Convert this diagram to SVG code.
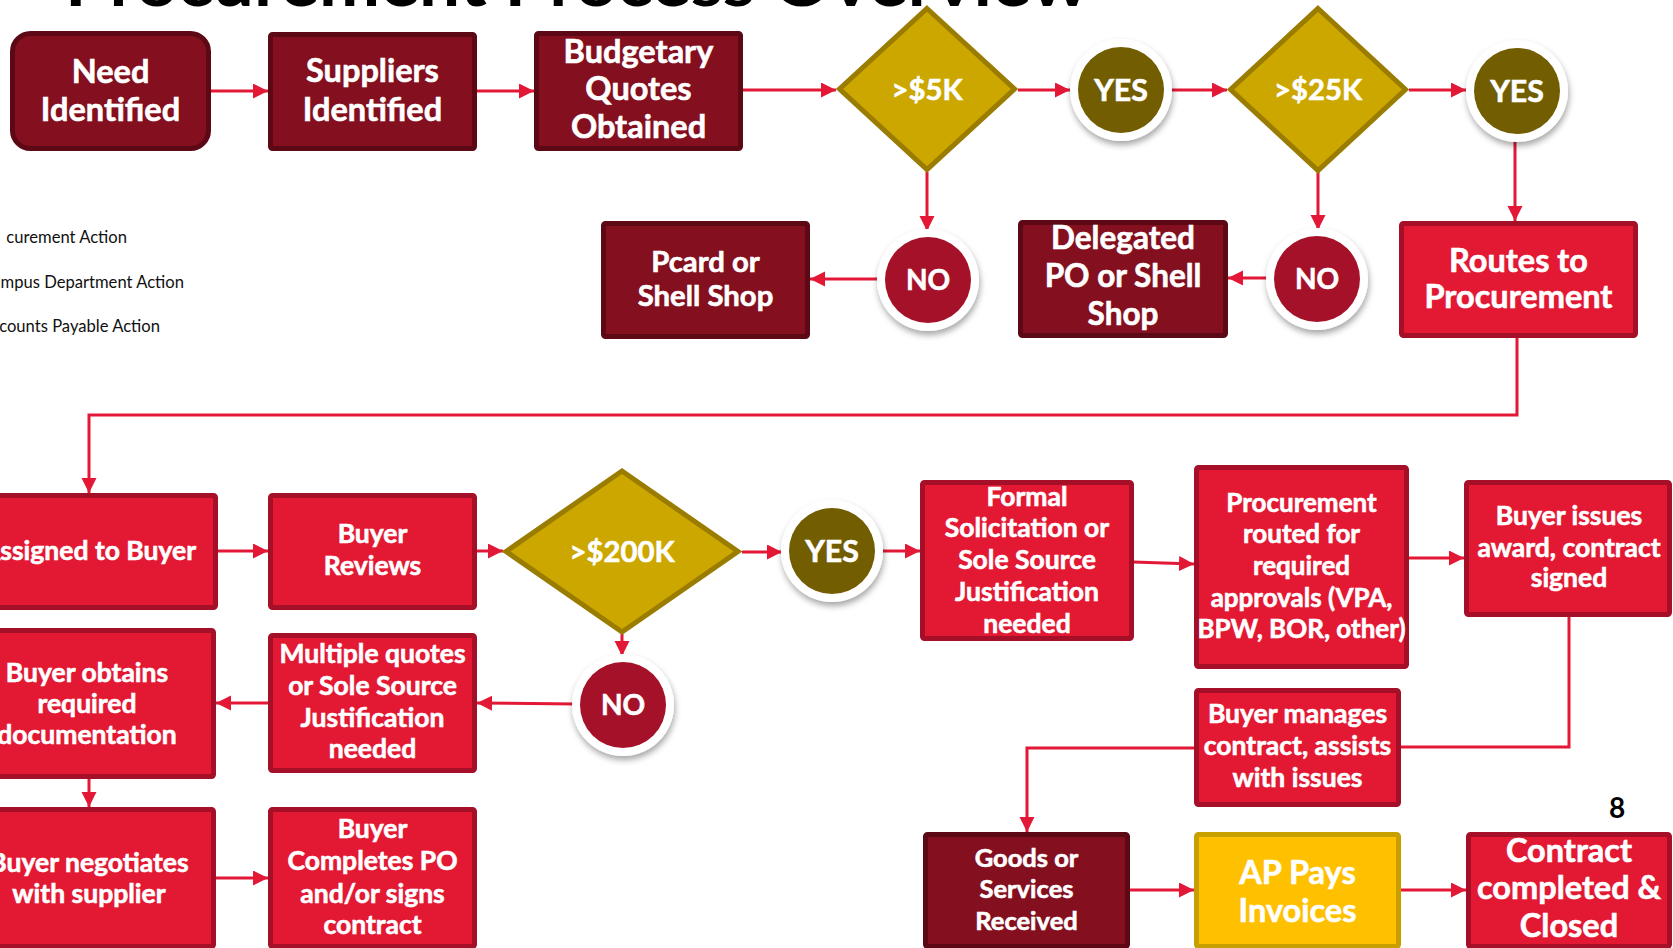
<svg xmlns="http://www.w3.org/2000/svg" width="1673" height="948" viewBox="0 0 1673 948">
<style>
.t{font-family:"Lato","Liberation Sans",sans-serif;font-weight:700;fill:#fff;stroke:#fff;stroke-width:0.6;text-anchor:middle}
.t32{font-size:32.5px}.t31{font-size:31.5px}.t29{font-size:29.3px}.t30{font-size:30.3px}.t28{font-size:28px}.t26{font-size:26.5px}.t25{font-size:25.5px}.t26b{font-size:26px}
.dk{fill:#84101F;stroke:#5C0915;stroke-width:5}
.rd{fill:#E31934;stroke:#A50F28;stroke-width:5}
.yl{fill:#FFC000;stroke:#C7A000;stroke-width:5}
.dm{fill:#CCA700;stroke:#9A7C00;stroke-width:5;stroke-linejoin:miter}
.ring{fill:#fff;filter:url(#sh)}
.yes{fill:#725D00}.no{fill:#A51128}
.c{fill:none;stroke:#E31837;stroke-width:3}
.ca{marker-end:url(#ah)}
.lg{font-family:"Lato","Liberation Sans",sans-serif;font-size:16.6px;fill:#111;text-anchor:end}
</style>
<defs>
<marker id="ah" markerUnits="userSpaceOnUse" markerWidth="16" markerHeight="16" refX="15" refY="7.5" orient="auto">
<path d="M0,0 L15,7.5 L0,15 z" fill="#E31837"/>
</marker>
<filter id="sh" x="-30%" y="-30%" width="160%" height="170%">
<feDropShadow dx="1" dy="4" stdDeviation="3" flood-color="#000" flood-opacity="0.35"/>
</filter>
</defs>
<rect width="1673" height="948" fill="#fff"/>
<text x="65" y="6" font-family="Lato,'Liberation Sans',sans-serif" font-weight="700" font-size="66" fill="#000" textLength="1024" lengthAdjust="spacingAndGlyphs">Procurement Process Overview</text>
<g id="legend">
<text class="lg" x="127" y="243">curement Action</text>
<text class="lg" x="184" y="288">mpus Department Action</text>
<text class="lg" x="160" y="332">counts Payable Action</text>
</g>
<g id="connectors">
<path class="c ca" d="M211,91 H268"/>
<path class="c ca" d="M477,91 H534"/>
<path class="c ca" d="M743,90 H836"/>
<path class="c ca" d="M1018,90 H1070"/>
<path class="c ca" d="M1168,90 H1227"/>
<path class="c ca" d="M1409,90 H1466"/>
<path class="c ca" d="M1515,136 V221"/>
<path class="c ca" d="M927,172 V231"/>
<path class="c ca" d="M880,279 H810"/>
<path class="c ca" d="M1318,172 V230"/>
<path class="c ca" d="M1270,278 H1228"/>
<path class="c ca" d="M1517,338 V415 H89 V493"/>
<path class="c ca" d="M218,551 H268"/>
<path class="c ca" d="M477,551 H503"/>
<path class="c ca" d="M742,552 H782"/>
<path class="c ca" d="M880,551 H920"/>
<path class="c ca" d="M622,634 V656"/>
<path class="c ca" d="M576,704 L477,703"/>
<path class="c ca" d="M268,703 H216"/>
<path class="c ca" d="M89,779 V807"/>
<path class="c ca" d="M216,878 H268"/>
<path class="c ca" d="M1133,562 L1194,564"/>
<path class="c ca" d="M1409,558 H1464"/>
<path class="c" d="M1569,617 V747 H1401"/>
<path class="c ca" d="M1194,748 H1027 V832"/>
<path class="c ca" d="M1130,890 H1194"/>
<path class="c ca" d="M1401,890 H1466"/>
</g>
<g id="need"><rect class="dk" x="12.5" y="33.5" width="196" height="115" rx="18"/>
<text class="t t32" x="110.5" y="83">Need</text><text class="t t32" x="110.5" y="121">Identified</text></g>
<g id="suppliers"><rect class="dk" x="270.5" y="34.5" width="204" height="114" rx="2"/>
<text class="t t32" x="372.5" y="82">Suppliers</text><text class="t t32" x="372.5" y="121">Identified</text></g>
<g id="budgetary"><rect class="dk" x="536.5" y="33.5" width="204" height="115" rx="2"/>
<text class="t t32" x="638.5" y="63">Budgetary</text><text class="t t32" x="638.5" y="100">Quotes</text><text class="t t32" x="638.5" y="138">Obtained</text></g>
<g id="d5k"><polygon class="dm" points="927,8.5 1014.5,89 927,169.5 839.5,89"/>
<text class="t t29" x="927" y="100">&gt;$5K</text></g>
<g id="yes1"><circle class="ring" cx="1121" cy="90" r="51"/><circle class="yes" cx="1121" cy="90" r="43"/>
<text class="t t30" x="1121" y="100.5">YES</text></g>
<g id="d25k"><polygon class="dm" points="1318,8.5 1405.5,89.5 1318,170.5 1230.5,89.5"/>
<text class="t t29" x="1318" y="100">&gt;$25K</text></g>
<g id="yes2"><circle class="ring" cx="1517" cy="91" r="51"/><circle class="yes" cx="1517" cy="91" r="43"/>
<text class="t t30" x="1517" y="101.5">YES</text></g>
<g id="pcard"><rect class="dk" x="603.5" y="223.5" width="204" height="113" rx="2"/>
<text class="t t29" x="705.5" y="272">Pcard or</text><text class="t t29" x="705.5" y="306">Shell Shop</text></g>
<g id="no1"><circle class="ring" cx="928" cy="280" r="51"/><circle class="no" cx="928" cy="280" r="43"/>
<text class="t t28" x="928" y="290">NO</text></g>
<g id="delegated"><rect class="dk" x="1020.5" y="222.5" width="205" height="113" rx="2"/>
<text class="t t31" x="1123" y="249">Delegated</text><text class="t t31" x="1123" y="287">PO or Shell</text><text class="t t31" x="1123" y="325">Shop</text></g>
<g id="no2"><circle class="ring" cx="1317" cy="279" r="51"/><circle class="no" cx="1317" cy="279" r="43"/>
<text class="t t28" x="1317" y="289">NO</text></g>
<g id="routes"><rect class="rd" x="1401.5" y="223.5" width="234" height="112" rx="2"/>
<text class="t t32" x="1518.5" y="272">Routes to</text><text class="t t32" x="1518.5" y="308">Procurement</text></g>
<g id="assigned"><rect class="rd" x="-40" y="495.5" width="255.5" height="112" rx="2"/>
<text class="t t26" x="89" y="560">Assigned to Buyer</text></g>
<g id="reviews"><rect class="rd" x="270.5" y="495.5" width="204" height="112" rx="2"/>
<text class="t t26" x="372.5" y="543">Buyer</text><text class="t t26" x="372.5" y="575">Reviews</text></g>
<g id="d200k"><polygon class="dm" points="622,471 738,551.5 622,632 506,551.5"/>
<text class="t t29" x="622" y="562">&gt;$200K</text></g>
<g id="yes3"><circle class="ring" cx="832" cy="551" r="51"/><circle class="yes" cx="832" cy="551" r="43"/>
<text class="t t30" x="832" y="561.5">YES</text></g>
<g id="formal"><rect class="rd" x="922.5" y="482.5" width="209" height="156" rx="2"/>
<text class="t t26" x="1027" y="506">Formal</text><text class="t t26" x="1027" y="537">Solicitation or</text><text class="t t26" x="1027" y="569">Sole Source</text><text class="t t26" x="1027" y="601">Justification</text><text class="t t26" x="1027" y="633">needed</text></g>
<g id="routed"><rect class="rd" x="1196.5" y="467.5" width="210" height="199" rx="2"/>
<text class="t t26b" x="1301.5" y="512">Procurement</text><text class="t t26b" x="1301.5" y="543">routed for</text><text class="t t26b" x="1301.5" y="575">required</text><text class="t t26b" x="1301.5" y="607">approvals (VPA,</text><text class="t t26b" x="1301.5" y="638">BPW, BOR, other)</text></g>
<g id="issues"><rect class="rd" x="1466.5" y="482.5" width="203" height="132" rx="2"/>
<text class="t t26" x="1569" y="525">Buyer issues</text><text class="t t26" x="1569" y="557">award, contract</text><text class="t t26" x="1569" y="587">signed</text></g>
<g id="obtains"><rect class="rd" x="-40" y="630.5" width="253.5" height="146" rx="2"/>
<text class="t t26" x="87" y="682">Buyer obtains</text><text class="t t26" x="87" y="713">required</text><text class="t t26" x="87" y="744">documentation</text></g>
<g id="multiple"><rect class="rd" x="270.5" y="635.5" width="204" height="135" rx="2"/>
<text class="t t26" x="372.5" y="663">Multiple quotes</text><text class="t t26" x="372.5" y="695">or Sole Source</text><text class="t t26" x="372.5" y="727">Justification</text><text class="t t26" x="372.5" y="758">needed</text></g>
<g id="no3"><circle class="ring" cx="623" cy="705" r="51"/><circle class="no" cx="623" cy="705" r="43"/>
<text class="t t28" x="623" y="715">NO</text></g>
<g id="manages"><rect class="rd" x="1196.5" y="690.5" width="202" height="114" rx="2"/>
<text class="t t26" x="1297.5" y="723">Buyer manages</text><text class="t t26" x="1297.5" y="755">contract, assists</text><text class="t t26" x="1297.5" y="787">with issues</text></g>
<g id="negotiates"><rect class="rd" x="-40" y="809.5" width="253.5" height="137" rx="2"/>
<text class="t t26" x="89" y="872">Buyer negotiates</text><text class="t t26" x="89" y="903">with supplier</text></g>
<g id="completes"><rect class="rd" x="270.5" y="809.5" width="204" height="137" rx="2"/>
<text class="t t26" x="372.5" y="838">Buyer</text><text class="t t26" x="372.5" y="870">Completes PO</text><text class="t t26" x="372.5" y="903">and/or signs</text><text class="t t26" x="372.5" y="934">contract</text></g>
<g id="goods"><rect class="dk" x="925.5" y="834.5" width="202" height="112" rx="2"/>
<text class="t t25" x="1026.5" y="867">Goods or</text><text class="t t25" x="1026.5" y="898">Services</text><text class="t t25" x="1026.5" y="930">Received</text></g>
<g id="ap"><rect class="yl" x="1196.5" y="834.5" width="202" height="112" rx="2"/>
<text class="t t32" x="1297.5" y="884">AP Pays</text><text class="t t32" x="1297.5" y="922">Invoices</text></g>
<g id="contract"><rect class="rd" x="1468.5" y="834.5" width="201" height="112" rx="2"/>
<text class="t t32" x="1569" y="862">Contract</text><text class="t t32" x="1569" y="899">completed &amp;</text><text class="t t32" x="1569" y="937">Closed</text></g>
<g id="page"><text x="1617" y="818" font-family="Lato,'Liberation Sans',sans-serif" font-weight="700" font-size="28" fill="#000" text-anchor="middle">8</text></g>
</svg>
